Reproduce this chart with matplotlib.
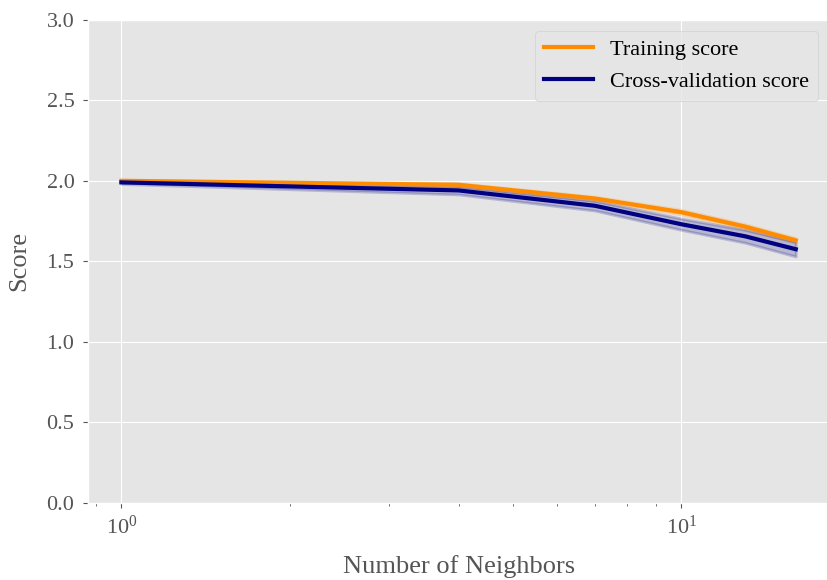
import numpy as np
import matplotlib
matplotlib.use('Agg')
import matplotlib.pyplot as plt


# 近邻数与得分
n_neighbors = [1, 4, 7, 10, 13, 16]
train_mean = [2.00, 1.975, 1.89, 1.805, 1.715, 1.63]
train_std = [0.005, 0.01, 0.012, 0.015, 0.015, 0.015]
cv_mean = [1.99, 1.94, 1.845, 1.73, 1.655, 1.575]
cv_std = [0.01, 0.025, 0.03, 0.035, 0.04, 0.045]

plt.style.use('ggplot')
plt.rcParams['font.family'] = ['Liberation Serif', 'DejaVu Serif']
plt.rcParams['mathtext.fontset'] = 'custom'
plt.rcParams['mathtext.rm'] = 'Liberation Serif'
plt.rcParams['mathtext.it'] = 'Liberation Serif:italic'

fig = plt.figure(figsize=(8.27, 5.8), dpi=100)
ax = fig.add_axes([0.106, 0.133, 0.897, 0.833])

tm, ts = np.array(train_mean), np.array(train_std)
cm, cs = np.array(cv_mean), np.array(cv_std)

ax.semilogx(n_neighbors, tm, label='Training score', color='darkorange', lw=3)
ax.fill_between(n_neighbors, tm - ts, tm + ts, alpha=0.2, color='darkorange', lw=2)
ax.semilogx(n_neighbors, cm, label='Cross-validation score', color='navy', lw=3)
ax.fill_between(n_neighbors, cm - cs, cm + cs, alpha=0.2, color='navy', lw=2)

ax.set_ylim(0.0, 3.0)
ax.set_xlabel('Number of Neighbors', fontsize=19, color='#555555', labelpad=11)
ax.set_ylabel('Score', fontsize=19, color='#555555', labelpad=12)
ax.tick_params(labelsize=16, pad=6)
ax.legend(loc='best', fontsize=16, handlelength=2.2)

fig.savefig('out.png', dpi=100)
